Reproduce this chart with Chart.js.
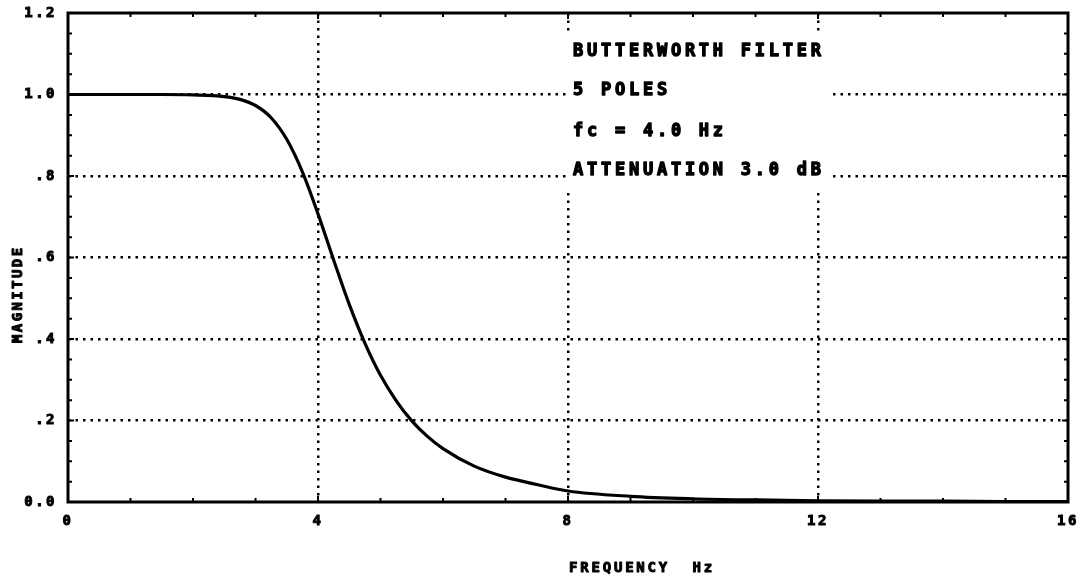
<!DOCTYPE html>
<html>
<head>
<meta charset="utf-8">
<title>Butterworth filter response</title>
<script src="https://cdn.jsdelivr.net/npm/chart.js@4/dist/chart.umd.min.js"></script>
<style>
    html, body {margin: 0; padding: 0; background: #fff;}
    #chartBox {width: 1082px; height: 581px;}
</style>
</head>
<body>
<div id="chartBox"><canvas id="filterChart"></canvas></div>
<script>
// frequency (Hz) and magnitude
const frequency = [0, 0.5, 1, 1.5, 2, 2.5, 2.75, 3, 3.25, 3.5, 3.75, 4, 4.25, 4.5, 4.75,
    5, 5.25, 5.5, 5.75, 6, 6.5, 7, 7.5, 8, 9, 10, 11, 12, 13, 14, 15, 16];
const magnitude = [1.0, 1.0, 1.0, 1.0, 0.999, 0.995, 0.988, 0.973, 0.943, 0.89, 0.81, 0.707, 0.594, 0.485, 0.39,
    0.311, 0.249, 0.199, 0.161, 0.131, 0.088, 0.061, 0.043, 0.027, 0.014, 0.008, 0.005, 0.003, 0.002, 0.002, 0.001, 0.001];

const xTicks = [0, 4, 8, 12, 16];
const yTicks = [0, 0.2, 0.4, 0.6, 0.8, 1.0, 1.2];

const infoLines = ["BUTTERWORTH FILTER", "5 POLES", "fc = 4.0 Hz", "ATTENUATION 3.0 dB"];
const xTitle = "FREQUENCY  Hz";
const yTitle = "MAGNITUDE";

const MONO = "'DejaVu Sans Mono', 'Liberation Mono', monospace";

function isInnerGrid(value, lo, hi) {
    return value > lo + 1e-6 && value < hi - 1e-6;
}

// pen-plotter lettering: fill plus a thin stroke to thicken the glyphs
function penText(ctx, text, x, y, weight) {
    ctx.lineWidth = weight;
    ctx.lineJoin = "round";
    ctx.strokeText(text, x, y);
    ctx.fillText(text, x, y);
}

const plotterText = {
    id: "plotterText",
    beforeDraw: function (chart) {
        chart.ctx.letterSpacing = "2.5px";
    },
    beforeDatasetsDraw: function (chart) {
        const ctx = chart.ctx;
        // legend block sits on a white patch that cuts through the grid
        ctx.save();
        ctx.fillStyle = "#fff";
        ctx.fillRect(566, 33, 266, 155);
        ctx.fillStyle = "#000";
        ctx.strokeStyle = "#000";
        ctx.font = "bold 17px " + MONO;
        ctx.letterSpacing = "3.75px";
        ctx.textBaseline = "middle";
        ctx.textAlign = "left";
        const rows = [52, 91, 132, 171];
        infoLines.forEach(function (line, i) {
            penText(ctx, line, 573, rows[i], 1.3);
        });
        ctx.restore();
    },
    afterDatasetsDraw: function (chart) {
        const ctx = chart.ctx;
        const area = chart.chartArea;
        const xs = chart.scales.x;
        const ys = chart.scales.y;
        ctx.save();
        ctx.strokeStyle = "#000";
        ctx.lineWidth = 3;
        ctx.setLineDash([]);
        ctx.strokeRect(area.left, area.top, area.right - area.left, area.bottom - area.top);

        // small inward ticks on all four sides
        ctx.lineWidth = 2;
        ctx.beginPath();
        for (let i = 0; i <= 16; i++) {
            const px = xs.getPixelForValue(i);
            const len = i % 4 === 0 ? 6 : 4;
            ctx.moveTo(px, area.bottom);
            ctx.lineTo(px, area.bottom - len);
            ctx.moveTo(px, area.top);
            ctx.lineTo(px, area.top + len);
        }
        for (let j = 0; j <= 24; j++) {
            const py = ys.getPixelForValue(j * 0.05);
            const len = j % 4 === 0 ? 6 : 4;
            ctx.moveTo(area.left, py);
            ctx.lineTo(area.left + len, py);
            ctx.moveTo(area.right, py);
            ctx.lineTo(area.right - len, py);
        }
        ctx.stroke();

        ctx.fillStyle = "#000";
        ctx.font = "bold 14px " + MONO;
        ctx.letterSpacing = "2.8px";
        ctx.textBaseline = "middle";
        ctx.textAlign = "left";
        penText(ctx, xTitle, 569, 568, 1);

        ctx.translate(18, 343);
        ctx.rotate(-Math.PI / 2);
        ctx.letterSpacing = "2.4px";
        penText(ctx, yTitle, 0, 0, 1);
        ctx.restore();
    },
    afterDraw: function (chart) {
        chart.ctx.letterSpacing = "0px";
    },
};

document.addEventListener("DOMContentLoaded", function () {
    const ctx = document.getElementById("filterChart").getContext("2d");
    const points = frequency.map((f, i) => ({x: f, y: magnitude[i]}));

    const tickFont = {family: MONO, size: 14, weight: "bold"};

    new Chart(ctx, {
        type: "scatter",
        data: {
            datasets: [{
                data: points,
                showLine: true,
                borderColor: "#000",
                borderWidth: 3.2,
                pointRadius: 0,
                cubicInterpolationMode: "monotone",
            }],
        },
        options: {
            responsive: true,
            maintainAspectRatio: false,
            animation: false,
            layout: {padding: {top: 13, right: 14, left: 0, bottom: 0}},
            plugins: {
                legend: {display: false},
                tooltip: {enabled: false},
            },
            scales: {
                x: {
                    type: "linear",
                    min: 0,
                    max: 16,
                    afterFit: function (scale) {
                        scale.height = 79;
                        scale.paddingLeft = 0;
                        scale.paddingRight = 0;
                    },
                    afterBuildTicks: function (scale) {
                        scale.ticks = xTicks.map(v => ({value: v}));
                    },
                    ticks: {
                        color: "#000",
                        textStrokeColor: "#000",
                        textStrokeWidth: 1,
                        padding: 11,
                        maxRotation: 0,
                        font: tickFont,
                        callback: function (value) {
                            return String(value);
                        },
                    },
                    border: {display: false, dash: [2.5, 5]},
                    grid: {
                        drawTicks: false,
                        lineWidth: 2.5,
                        color: function (c) {
                            return c.tick && isInnerGrid(c.tick.value, 0, 16) ? "#000" : "rgba(0,0,0,0)";
                        },
                    },
                },
                y: {
                    type: "linear",
                    min: 0,
                    max: 1.2,
                    afterFit: function (scale) {
                        scale.width = 68;
                        scale.paddingTop = 0;
                        scale.paddingBottom = 0;
                    },
                    afterBuildTicks: function (scale) {
                        scale.ticks = yTicks.map(v => ({value: v}));
                    },
                    ticks: {
                        color: "#000",
                        textStrokeColor: "#000",
                        textStrokeWidth: 1,
                        padding: 11,
                        font: tickFont,
                        callback: function (value) {
                            if (Math.abs(value) < 1e-6) return "0.0";
                            if (value > 0.99) return value.toFixed(1);
                            return value.toFixed(1).replace(/^0/, "");
                        },
                    },
                    border: {display: false, dash: [2.5, 5]},
                    grid: {
                        drawTicks: false,
                        lineWidth: 2.5,
                        color: function (c) {
                            return c.tick && isInnerGrid(c.tick.value, 0, 1.2) ? "#000" : "rgba(0,0,0,0)";
                        },
                    },
                },
            },
        },
        plugins: [plotterText],
    });
});
</script>
</body>
</html>
